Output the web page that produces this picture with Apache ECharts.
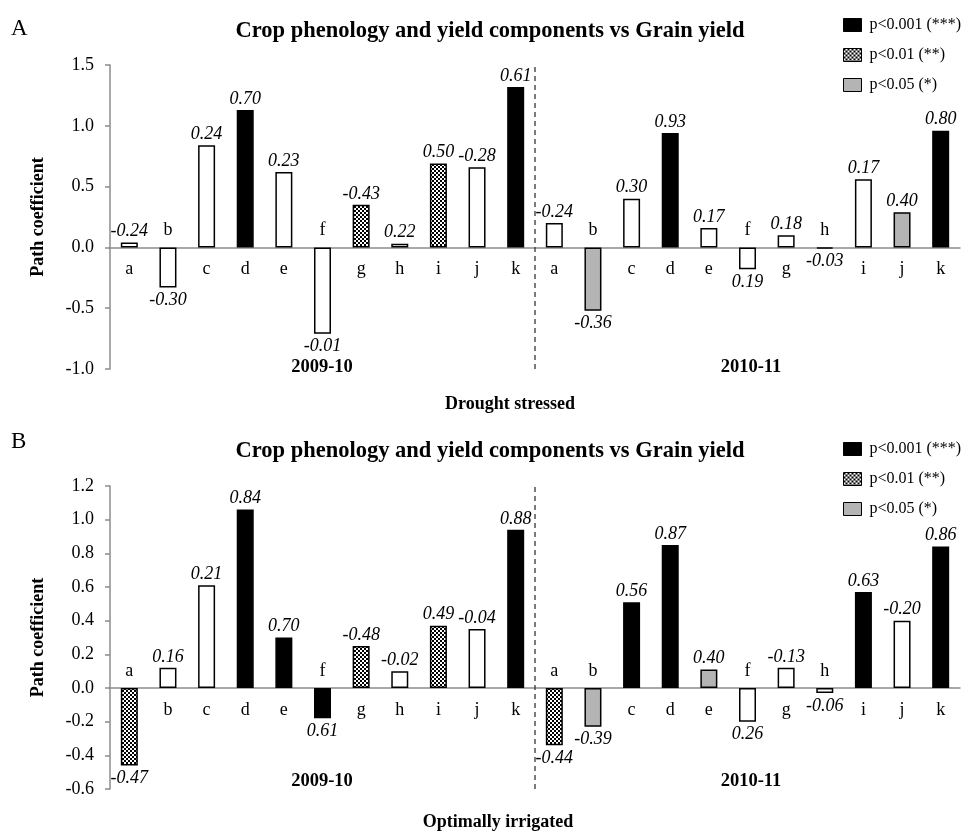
<!DOCTYPE html>
<html>
<head>
<meta charset="utf-8">
<script src="https://cdn.jsdelivr.net/npm/echarts@6/dist/echarts.min.js"></script>
<style>
html,body{margin:0;padding:0;background:#fff;}
#chart{width:963px;height:832px;}
</style>
</head>
<body>
<div id="chart"></div>
<script>
// ---------- data ----------
const cats = ['a','b','c','d','e','f','g','h','i','j','k'];
const seasons = ['2009-10','2010-11'];
const sigNames = {'***':'p<0.001 (***)','**':'p<0.01 (**)','*':'p<0.05 (*)'};

// Panel A: Drought stressed (bar heights, printed labels, significance)
const droughtBars0910 = [0.04,-0.33,0.84,1.13,0.62,-0.71,0.35,0.03,0.69,0.66,1.32];
const droughtBars1011 = [0.20,-0.52,0.40,0.94,0.16,-0.18,0.10,-0.01,0.56,0.29,0.96];
const droughtLabels0910 = ['-0.24','-0.30','0.24','0.70','0.23','-0.01','-0.43','0.22','0.50','-0.28','0.61'];
const droughtLabels1011 = ['-0.24','-0.36','0.30','0.93','0.17','0.19','0.18','-0.03','0.17','0.40','0.80'];
const droughtSig0910 = ['ns','ns','ns','***','ns','ns','**','ns','**','ns','***'];
const droughtSig1011 = ['ns','*','ns','***','ns','ns','ns','ns','ns','*','***'];

// Panel B: Optimally irrigated
const irrBars0910 = [-0.46,0.12,0.61,1.06,0.30,-0.18,0.25,0.10,0.37,0.35,0.94];
const irrBars1011 = [-0.34,-0.23,0.51,0.85,0.11,-0.20,0.12,-0.03,0.57,0.40,0.84];
const irrLabels0910 = ['-0.47','0.16','0.21','0.84','0.70','0.61','-0.48','-0.02','0.49','-0.04','0.88'];
const irrLabels1011 = ['-0.44','-0.39','0.56','0.87','0.40','0.26','-0.13','-0.06','0.63','-0.20','0.86'];
const irrSig0910 = ['**','ns','ns','***','***','***','**','ns','**','ns','***'];
const irrSig1011 = ['**','*','***','***','*','ns','ns','ns','***','ns','***'];

// axis ranges
const axisA = [-1.0, 1.5, 0.5];
const axisB = [-0.6, 1.2, 0.2];

// ---------- styles ----------
const SERIF = '"Liberation Serif","Times New Roman",serif';
const checker = document.createElement('canvas');
checker.width = 4; checker.height = 4;
(function(){
  const c = checker.getContext('2d');
  c.fillStyle = '#fff'; c.fillRect(0,0,4,4);
  c.fillStyle = '#000'; c.fillRect(0,0,2,2); c.fillRect(2,2,2,2);
})();
const fills = {
  'ns': '#ffffff',
  '***': '#000000',
  '**': {image: checker, repeat: 'repeat'},
  '*': '#b4b4b4'
};

const allCats = cats.concat(cats);

function buildPanel(gridIndex, bars, labels, sig) {
  const series = [];
  ['ns','***','**','*'].forEach(function(cls){
    const data = bars.map(function(v, i){
      if (sig[i] !== cls) return '-';
      return {value: v, label: {position: v >= 0 ? 'top' : 'bottom', distance: v >= 0 ? 2 : 4}};
    });
    series.push({
      type: 'bar',
      name: cls === 'ns' ? 'ns' : sigNames[cls],
      xAxisIndex: gridIndex * 2,
      yAxisIndex: gridIndex,
      stack: 'panel' + gridIndex,
      barWidth: 17,
      data: data,
      itemStyle: {color: fills[cls], borderColor: '#000', borderWidth: 1.5},
      label: {
        show: true,
        fontFamily: SERIF, fontStyle: 'italic', fontSize: 18, color: '#000',
        formatter: function(p){ return labels[p.dataIndex]; }
      },
      emphasis: {disabled: true},
      silent: true
    });
  });
  // category letters: below axis for positive bars, above for negative
  series.push({
    type: 'scatter',
    xAxisIndex: gridIndex * 2,
    yAxisIndex: gridIndex,
    symbolSize: 0,
    silent: true,
    itemStyle: {opacity: 1, color: '#000'},
    data: bars.map(function(v, i){
      return {value: [i, 0], label: {position: v >= 0 ? 'bottom' : 'top', distance: v >= 0 ? 13 : 8}};
    }),
    label: {
      show: true, fontFamily: SERIF, fontSize: 18, color: '#000', opacity: 1,
      formatter: function(p){ return allCats[p.dataIndex]; }
    }
  });
  return series;
}

function dashed(gridIndex, ax) {
  return {
    type: 'line',
    xAxisIndex: gridIndex * 2 + 1,
    yAxisIndex: gridIndex,
    data: [[cats.length, ax[0]], [cats.length, ax[1]]],
    symbol: 'none',
    silent: true,
    lineStyle: {color: '#333', width: 1.3, type: [5, 4]}
  };
}

function yAxis(gridIndex, ax) {
  return {
    type: 'value', gridIndex: gridIndex,
    min: ax[0], max: ax[1], interval: ax[2],
    name: 'Path coefficient', nameLocation: 'middle', nameGap: 63,
    nameTextStyle: {fontFamily: SERIF, fontWeight: 'bold', fontSize: 18, color: '#000'},
    axisLine: {show: true, lineStyle: {color: '#8c8c8c', width: 1.5}},
    axisTick: {show: true, length: 5, lineStyle: {color: '#8c8c8c', width: 1.5}},
    splitLine: {show: false},
    axisLabel: {fontFamily: SERIF, fontSize: 18, color: '#000', margin: 16,
      formatter: function(v){ return v.toFixed(1); }}
  };
}

function xAxes(gridIndex) {
  return [{
    type: 'category', gridIndex: gridIndex,
    data: allCats.map(function(c, i){ return c + (i < cats.length ? '' : ' '); }),
    axisLine: {show: true, onZero: true, lineStyle: {color: '#8c8c8c', width: 1.5}},
    axisTick: {show: false},
    axisLabel: {show: false}
  }, {
    type: 'value', gridIndex: gridIndex,
    min: 0, max: allCats.length, show: false
  }];
}

const seriesList = []
  .concat(buildPanel(0, droughtBars0910.concat(droughtBars1011), droughtLabels0910.concat(droughtLabels1011), droughtSig0910.concat(droughtSig1011)))
  .concat([dashed(0, axisA)])
  .concat(buildPanel(1, irrBars0910.concat(irrBars1011), irrLabels0910.concat(irrLabels1011), irrSig0910.concat(irrSig1011)))
  .concat([dashed(1, axisB)]);

const legendNames = [sigNames['***'], sigNames['**'], sigNames['*']];
function legend(top) {
  return {
    orient: 'vertical', left: 838, top: top,
    itemWidth: 18, itemHeight: 13, itemGap: 14,
    icon: 'rect',
    selectedMode: false,
    data: legendNames,
    itemStyle: {borderColor: '#000', borderWidth: 1},
    textStyle: {fontFamily: SERIF, fontSize: 16, color: '#000', padding: [0,0,0,3]}
  };
}

const option = {
  animation: false,
  backgroundColor: '#fff',
  grid: [
    {left: 110, right: 3, top: 65, height: 304},
    {left: 110, right: 3, top: 486, height: 303}
  ],
  xAxis: xAxes(0).concat(xAxes(1)),
  yAxis: [yAxis(0, axisA), yAxis(1, axisB)],
  legend: [legend(12), legend(436)],
  series: seriesList,
  graphic: [
    {type: 'text', left: 11, top: 17, style: {text: 'A', fontFamily: SERIF, fontSize: 23, fill: '#000'}},
    {type: 'text', x: 490, y: 31, style: {text: 'Crop phenology and yield components vs Grain yield', fontFamily: SERIF, fontSize: 22.5, fontWeight: 'bold', fill: '#000', textAlign: 'center', textVerticalAlign: 'middle'}},
    {type: 'text', x: 322, y: 367, style: {text: seasons[0], fontFamily: SERIF, fontSize: 18.5, fontWeight: 'bold', fill: '#000', textAlign: 'center', textVerticalAlign: 'middle'}},
    {type: 'text', x: 751, y: 367, style: {text: seasons[1], fontFamily: SERIF, fontSize: 18.5, fontWeight: 'bold', fill: '#000', textAlign: 'center', textVerticalAlign: 'middle'}},
    {type: 'text', x: 510, y: 404, style: {text: 'Drought stressed', fontFamily: SERIF, fontSize: 18, fontWeight: 'bold', fill: '#000', textAlign: 'center', textVerticalAlign: 'middle'}},

    {type: 'text', left: 11, top: 430, style: {text: 'B', fontFamily: SERIF, fontSize: 23, fill: '#000'}},
    {type: 'text', x: 490, y: 451, style: {text: 'Crop phenology and yield components vs Grain yield', fontFamily: SERIF, fontSize: 22.5, fontWeight: 'bold', fill: '#000', textAlign: 'center', textVerticalAlign: 'middle'}},
    {type: 'text', x: 322, y: 781, style: {text: seasons[0], fontFamily: SERIF, fontSize: 18.5, fontWeight: 'bold', fill: '#000', textAlign: 'center', textVerticalAlign: 'middle'}},
    {type: 'text', x: 751, y: 781, style: {text: seasons[1], fontFamily: SERIF, fontSize: 18.5, fontWeight: 'bold', fill: '#000', textAlign: 'center', textVerticalAlign: 'middle'}},
    {type: 'text', x: 498, y: 822, style: {text: 'Optimally irrigated', fontFamily: SERIF, fontSize: 18, fontWeight: 'bold', fill: '#000', textAlign: 'center', textVerticalAlign: 'middle'}}
  ]
};

const chart = echarts.init(document.getElementById('chart'), null, {renderer: 'canvas'});
chart.setOption(option);
</script>
</body>
</html>
